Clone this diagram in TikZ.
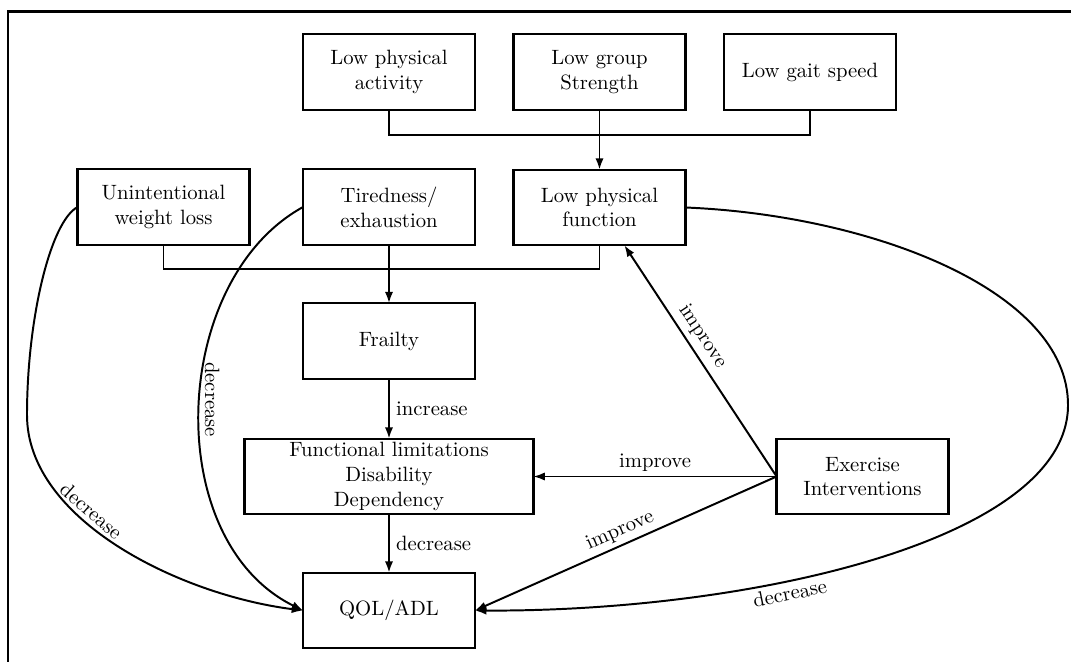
\documentclass[tikz,border=0pt]{standalone}
\usetikzlibrary{arrows.meta}
\begin{document}
\begin{tikzpicture}[x=0.483pt,y=-0.483pt,
  box/.style={draw, line width=1.1pt, minimum width=83pt, minimum height=36.5pt, align=center, inner sep=1pt, outer sep=0pt},
  conn/.style={line width=0.95pt},
  arr/.style={conn, -{Latex[length=5.5pt,width=4pt]}},
  lab/.style={inner sep=3pt}]
\useasboundingbox (0,0) rectangle (1071,662);
\draw[line width=1pt] (1071,11.5) -- (8,11.5) -- (8,662);
% nodes
\node[box] (pa) at (389,72) {Low physical\\activity};
\node[box] (gs) at (599.5,72) {Low group\\Strength};
\node[box] (gait) at (810,72) {Low gait speed};
\node[box] (uwl) at (163.5,207) {Unintentional\\weight loss};
\node[box] (tired) at (389,207) {Tiredness/\\exhaustion};
\node[box] (lpf) at (599.5,207.5) {Low physical\\function};
\node[box] (frailty) at (389,341) {Frailty};
\node[box, minimum width=139.5pt] (func) at (389,476.5) {Functional limitations\\Disability\\Dependency};
\node[box] (qol) at (389,610.5) {QOL/ADL};
\node[box] (ex) at (862.5,476.5) {Exercise\\Interventions};
% junctions
\coordinate (j1) at (599.5,135);
\coordinate (j2) at (389,269);
\coordinate (k1) at (27,415);
\coordinate (k2) at (1068,405);
% connectors
\draw[conn] (pa.south) |- (j1) -| (gait.south);
\draw[arr] (gs.south) -- (lpf.north);
\draw[conn] (uwl.south) |- (j2) -| (lpf.south);
\draw[arr] (tired.south) -- (frailty.north);
\draw[arr] (frailty.south) -- node[right, lab] {increase} (func.north);
\draw[arr] (func.south) -- node[right, lab] {decrease} (qol.north);
\draw[arr] (ex.west) -- node[above, lab, inner sep=2pt] {improve} (func.east);
\draw[arr] (ex.west) -- node[pos=0.57, above, sloped, lab, inner sep=2.5pt] {improve} (lpf);
\draw[arr] (ex.west) -- node[midway, above, sloped, lab, inner sep=2pt] {improve} (qol.east);
\draw[arr] (uwl.west) .. controls (50,222) and (27,320) .. (k1) .. controls (27,520) and (180,595) .. (qol.west) node[pos=0.38, above, sloped, lab, inner sep=2pt] {decrease};
\draw[arr] (tired.west) .. controls (170,280) and (160,540) .. (qol.west) node[pos=0.48, rotate=-90, anchor=south, lab, inner sep=2pt] {decrease};
\draw[arr] (lpf.east) .. controls (870,215) and (1068,290) .. (k2) .. controls (1068,540) and (750,612) .. (qol.east) node[pos=0.62, below, sloped, lab, inner sep=2pt] {decrease};
\end{tikzpicture}
\end{document}
